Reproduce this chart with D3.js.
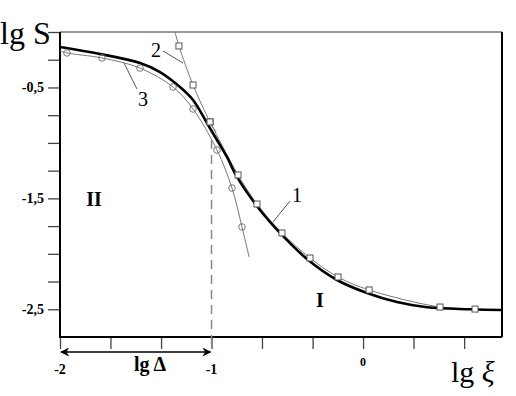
<!DOCTYPE html>
<html>
<head>
<meta charset="utf-8">
<script src="https://cdn.jsdelivr.net/npm/d3@7"></script>
<style>
  body { margin: 0; background: #fff; }
  text { font-family: "Liberation Serif", "Times New Roman", serif; }
</style>
</head>
<body>
<div id="chart"></div>
<script>
var width = 516,
	height = 396,
	margin = {top: 32, right: 14, bottom: 59, left: 60};

// theory curve (thick black)
var curveMain = [
	[-2.000, -0.135], [-1.736, -0.198], [-1.472, -0.280], [-1.340, -0.361],
	[-1.208, -0.496], [-1.122, -0.613], [-1.030, -0.821], [-0.964, -0.974],
	[-0.898, -1.127], [-0.832, -1.307], [-0.680, -1.605], [-0.548, -1.812],
	[-0.370, -2.047], [-0.172, -2.236], [0.026, -2.353], [0.224, -2.435],
	[0.422, -2.482], [0.706, -2.500], [0.917, -2.507]
];
// curve 1 (squares), third value = 1 when a marker is drawn
var curve1 = [
	[-1.010, -0.811, 1], [-0.825, -1.289, 1], [-0.700, -1.551, 1], [-0.535, -1.812, 1],
	[-0.350, -2.038, 1], [-0.165, -2.209, 1], [0.040, -2.326, 1], [0.508, -2.480, 1],
	[0.739, -2.498, 1], [0.917, -2.507, 0]
];
// curve 2 (squares)
var curve2 = [
	[-1.241, 0.0, 0], [-1.215, -0.126, 1], [-1.122, -0.478, 1], [-1.010, -0.811, 1],
	[-0.970, -0.902, 0]
];
// curve 3 (circles)
var curve3 = [
	[-2.000, -0.171, 0], [-1.954, -0.189, 1], [-1.723, -0.234, 1], [-1.472, -0.325, 1],
	[-1.254, -0.496, 1], [-1.122, -0.694, 1], [-0.964, -1.064, 1], [-0.865, -1.407, 1],
	[-0.799, -1.758, 1], [-0.752, -2.029, 0]
];

var xTicks = [-2, -1.667, -1.333, -1, -0.667, -0.333, 0, 0.333, 0.667],
	xLabels = [-2, -1, 0],
	yTicks = [0, -0.25, -0.5, -0.75, -1, -1.25, -1.5, -1.75, -2, -2.25, -2.5],
	yLabels = [-0.5, -1.5, -2.5];

var svg = d3.select('div#chart')
			.append('svg')
			.attr('width', width)
			.attr('height', height)
			.style('background', '#fff');

var x = d3.scaleLinear()
			.domain([-2, 0.917])
			.range([margin.left, width - margin.right]),
	y = d3.scaleLinear()
			.domain([0, -2.75])
			.range([margin.top, height - margin.bottom]);

var bottom = height - margin.bottom;

// axes ticks
svg.append("g")
	.attr("transform", "translate(0," + bottom + ")")
	.call(d3.axisBottom(x).tickValues(xTicks).tickSize(12).tickSizeOuter(0).tickFormat(""))
	.call(function(g){
		g.select(".domain").remove();
		g.selectAll(".tick line").attr("stroke", "#444").attr("stroke-width", 1.3);
	});

svg.append("g")
	.attr("transform", "translate(" + margin.left + ",0)")
	.call(d3.axisLeft(y).tickValues(yTicks).tickSize(12).tickSizeOuter(0).tickFormat(""))
	.call(function(g){
		g.select(".domain").remove();
		g.selectAll(".tick line").attr("stroke", "#444").attr("stroke-width", 1.3);
	});

// frame
svg.append("line")
	.attr("x1", margin.left).attr("x2", width - margin.right)
	.attr("y1", margin.top).attr("y2", margin.top)
	.attr("stroke", "#777").attr("stroke-width", 1.3);
svg.append("line")
	.attr("x1", width - margin.right).attr("x2", width - margin.right)
	.attr("y1", margin.top).attr("y2", bottom)
	.attr("stroke", "#000").attr("stroke-width", 2);
svg.append("line")
	.attr("x1", margin.left).attr("x2", margin.left)
	.attr("y1", margin.top).attr("y2", bottom + 1)
	.attr("stroke", "#000").attr("stroke-width", 2);
svg.append("line")
	.attr("x1", margin.left - 1).attr("x2", width - margin.right)
	.attr("y1", bottom).attr("y2", bottom)
	.attr("stroke", "#000").attr("stroke-width", 2);

// tick labels
svg.selectAll("text.ylab")
	.data(yLabels).enter()
	.append("text")
	.attr("class", "ylab")
	.attr("x", 44)
	.attr("y", function(d){ return y(d) + 5; })
	.attr("text-anchor", "end")
	.attr("font-size", 14)
	.attr("font-weight", "bold")
	.text(function(d){ return String(d).replace(".", ","); });

svg.selectAll("text.xlab")
	.data(xLabels).enter()
	.append("text")
	.attr("class", "xlab")
	.attr("x", function(d){ return x(d); })
	.attr("y", function(d){ return d == 0 ? 366 : 374; })
	.attr("text-anchor", "middle")
	.attr("font-size", function(d){ return d == 0 ? 12 : 14; })
	.attr("font-weight", "bold")
	.text(function(d){ return d; });

// plot area clip
svg.append("clipPath").attr("id", "clip")
	.append("rect")
	.attr("x", margin.left).attr("y", margin.top)
	.attr("width", width - margin.left - margin.right)
	.attr("height", bottom - margin.top);

// dashed line at lg xi = -1
svg.append("line")
	.attr("x1", x(-1)).attr("x2", x(-1))
	.attr("y1", 140).attr("y2", bottom + 13)
	.attr("stroke", "#888").attr("stroke-width", 1.5)
	.attr("stroke-dasharray", "9,6");

var line = d3.line()
	.x(function(d){ return x(d[0]); })
	.y(function(d){ return y(d[1]); })
	.curve(d3.curveCatmullRom);

var plot = svg.append("g").attr("clip-path", "url(#clip)");

function drawThin(data){
	plot.append("path")
		.datum(data)
		.attr("d", line)
		.attr("fill", "none")
		.attr("stroke", "#777")
		.attr("stroke-width", 1);
}

drawThin(curve1);
drawThin(curve2);
drawThin(curve3);

plot.append("path")
	.datum(curveMain)
	.attr("d", line)
	.attr("fill", "none")
	.attr("stroke", "#000")
	.attr("stroke-width", 2.6);

function drawSquares(data){
	plot.selectAll(null)
		.data(data.filter(function(d){ return d[2]; })).enter()
		.append("rect")
		.attr("x", function(d){ return x(d[0]) - 3; })
		.attr("y", function(d){ return y(d[1]) - 3; })
		.attr("width", 6)
		.attr("height", 6)
		.attr("fill", "#fff")
		.attr("stroke", "#555")
		.attr("stroke-width", 1);
}

drawSquares(curve1);
drawSquares(curve2);

plot.selectAll(null)
	.data(curve3.filter(function(d){ return d[2]; })).enter()
	.append("circle")
	.attr("cx", function(d){ return x(d[0]); })
	.attr("cy", function(d){ return y(d[1]); })
	.attr("r", 3.3)
	.attr("fill", "none")
	.attr("stroke", "#777")
	.attr("stroke-width", 1);

// curve numbers with leader lines
var notes = [
	{t: "1", tx: 297, ty: 202, x1: 290, y1: 201, x2: 273, y2: 222},
	{t: "2", tx: 156, ty: 57, x1: 163, y1: 51, x2: 183, y2: 63},
	{t: "3", tx: 143, ty: 106, x1: 137, y1: 89, x2: 124, y2: 63}
];
notes.forEach(function(n){
	svg.append("line")
		.attr("x1", n.x1).attr("y1", n.y1)
		.attr("x2", n.x2).attr("y2", n.y2)
		.attr("stroke", "#555").attr("stroke-width", 1);
	svg.append("text")
		.attr("x", n.tx).attr("y", n.ty)
		.attr("text-anchor", "middle")
		.attr("font-size", 20)
		.text(n.t);
});

// region labels
svg.append("text")
	.attr("x", 94).attr("y", 206)
	.attr("text-anchor", "middle")
	.attr("font-size", 20)
	.attr("font-weight", "bold")
	.text("II");
svg.append("text")
	.attr("x", 320).attr("y", 307)
	.attr("text-anchor", "middle")
	.attr("font-size", 20)
	.attr("font-weight", "bold")
	.text("I");

// lg Delta arrow
var defs = svg.append("defs");
defs.append("marker")
	.attr("id", "arr")
	.attr("viewBox", "0 0 10 10")
	.attr("refX", 9).attr("refY", 5)
	.attr("markerWidth", 9).attr("markerHeight", 9)
	.attr("markerUnits", "userSpaceOnUse")
	.attr("orient", "auto-start-reverse")
	.append("path")
	.attr("d", "M0,0 L10,5 L0,10 L3,5 Z")
	.attr("fill", "#000");

svg.append("line")
	.attr("x1", x(-2) + 1).attr("x2", x(-1) - 1)
	.attr("y1", 352).attr("y2", 352)
	.attr("stroke", "#000").attr("stroke-width", 1.5)
	.attr("marker-start", "url(#arr)")
	.attr("marker-end", "url(#arr)");

svg.append("text")
	.attr("x", 150).attr("y", 371)
	.attr("text-anchor", "middle")
	.attr("font-size", 20)
	.attr("font-weight", "bold")
	.text("lg\u2009\u0394");

// axis titles
svg.append("text")
	.attr("x", 0).attr("y", 44)
	.attr("font-size", 32)
	.text("lg S");

svg.append("text")
	.attr("x", 451).attr("y", 382)
	.attr("font-size", 30)
	.text("lg ")
	.append("tspan")
	.attr("font-style", "italic")
	.text("\u03BE");
</script>
</body>
</html>
